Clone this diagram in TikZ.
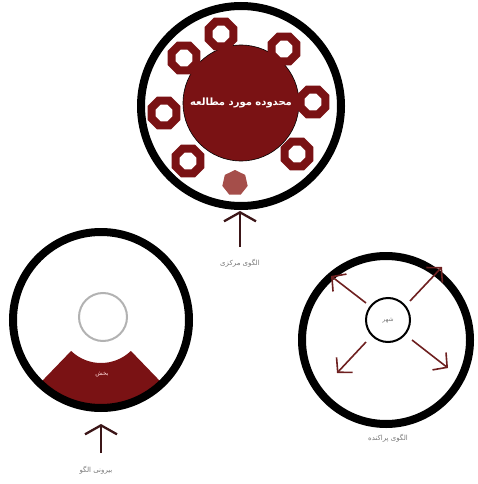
\documentclass[tikz,border=0pt]{standalone}
\usepackage{fontspec}
\usetikzlibrary{arrows.meta,shapes.geometric,calc}
\newfontfamily\arabicfont[Script=Arabic]{DejaVu Sans}
\TeXXeTstate=1
\definecolor{dred}{RGB}{122,18,20}
\definecolor{lred}{RGB}{165,78,74}
\definecolor{abrown}{RGB}{60,22,24}
\definecolor{darr}{RGB}{110,32,32}
\definecolor{lgray}{RGB}{120,120,120}
\tikzset{
  ring/.style={draw=black, line width=8pt, circle, inner sep=0pt},
  sat/.style={draw=dred, line width=8pt, regular polygon, regular polygon sides=8, minimum size=27pt, inner sep=0pt, fill=white},
  uparrow/.style={draw=abrown, line width=2.3pt, -{Straight Barb[length=9pt,width=32pt,line width=2.3pt]}},
  diagarrow/.style={draw=darr, line width=1.6pt, -{Straight Barb[length=10pt,width=22pt,line width=1.6pt]}},
  lbl/.style={text=lgray, font=\arabicfont\fontsize{7}{8}\selectfont, inner sep=1pt},
}
\begin{document}
\begin{tikzpicture}[x=1pt,y=-1pt]
\useasboundingbox (0,0) rectangle (477,484);
% ---------- top: central pattern ----------
\node[circle, fill=dred, draw=black, line width=0.6pt, minimum size=116pt, inner sep=0pt,
  text=white, font=\arabicfont\bfseries\fontsize{10}{12}\selectfont] (study) at (241,103) {\beginR محدوده مورد مطالعه\endR};
\node[sat] (s1) at (221,34) {};
\node[sat] (s2) at (284,49) {};
\node[sat] (s3) at (313,102) {};
\node[sat] (s4) at (297,154) {};
\node[sat] (s5) at (184,58) {};
\node[sat] (s6) at (164,113) {};
\node[sat] (s7) at (188,161) {};
\node[regular polygon, regular polygon sides=7, fill=lred, minimum size=26pt, inner sep=0pt] (s8) at (235,183) {};
\node[ring, minimum size=200pt] (topring) at (241,106) {};
\node[lbl] (toplbl) at (240,263) {\beginR الگوی مرکزی\endR};
\coordinate (toparr) at (240,247);
\coordinate (toptip) at (240,211);
\draw[uparrow] (toparr) -- (toptip);
% ---------- left: edge pattern ----------
\coordinate (lc) at (101,320);
\fill[lred!70] (87,401) rectangle (115,410);
\fill[dred] ($(lc)+(134:43)$)
  arc[start angle=134, end angle=46, radius=43]
  -- ($(lc)+(46:88)$) arc[start angle=46, end angle=134, radius=88] -- cycle;
\node[circle, draw=gray!60, line width=2pt, minimum size=48pt, inner sep=0pt] (core) at (103,317) {};
\node[text=white!85!red, font=\arabicfont\fontsize{6}{7}\selectfont] (part) at (102,374) {\beginR بخش\endR};
\node[ring, minimum size=176pt] (leftring) at (lc) {};
\node[lbl] (leftlbl) at (96,470) {\beginR بیرونی الگو\endR};
\coordinate (leftarr) at (101,453);
\coordinate (lefttip) at (101,424);
\draw[uparrow] (leftarr) -- (lefttip);
% ---------- right: scattered pattern ----------
\node[ring, minimum size=168pt] (rightring) at (386,340) {};
\node[circle, draw=black, line width=2pt, minimum size=44pt, inner sep=0pt,
  text=lgray, font=\arabicfont\fontsize{6}{7}\selectfont] (city) at (388,320) {\beginR شهر\endR};
\coordinate (nw) at (331,276);
\coordinate (ne) at (442,267);
\coordinate (sw) at (337,373);
\coordinate (se) at (448,368);
\coordinate (nw0) at (366,303);
\coordinate (ne0) at (410,301);
\coordinate (sw0) at (366,342);
\coordinate (se0) at (412,340);
\draw[diagarrow] (nw0) -- (nw);
\draw[diagarrow] (ne0) -- (ne);
\draw[diagarrow] (sw0) -- (sw);
\draw[diagarrow] (se0) -- (se);
\node[lbl] (rightlbl) at (388,438) {\beginR الگوی پراکنده\endR};
\end{tikzpicture}
\end{document}
